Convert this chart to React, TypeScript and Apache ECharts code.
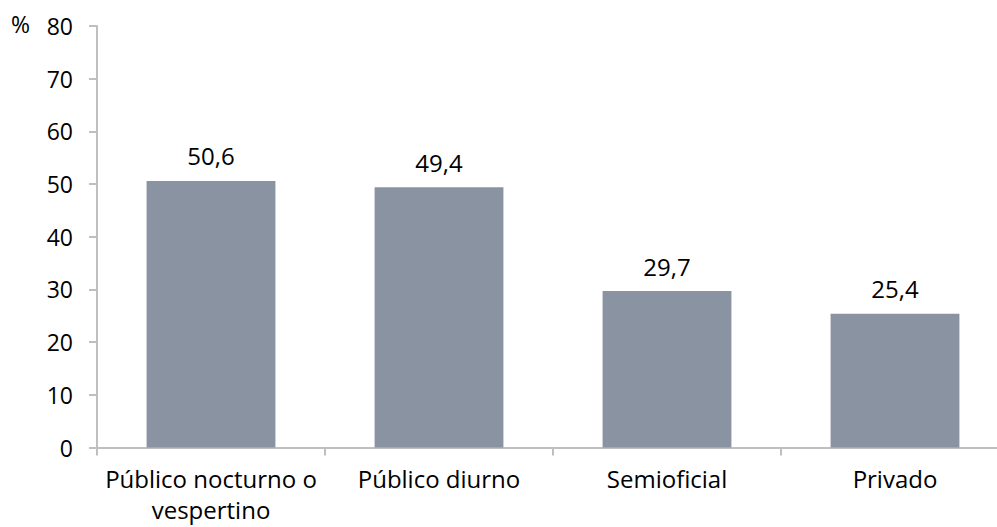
import React, { useEffect, useRef } from "react";
import * as echarts from "echarts";

const categories = ["Público nocturno o\nvespertino", "Público diurno", "Semioficial", "Privado"];
const values = [50.6, 49.4, 29.7, 25.4];
const yTicks = { min: 0, max: 80, interval: 10 };
const unitLabel = "%";

export default function App() {
  const ref = useRef<HTMLDivElement>(null);
  useEffect(() => {
    if (!ref.current) return;
    const chart = echarts.init(ref.current, undefined, { renderer: "svg" });
    const font = "'Open Sans', 'Noto Sans', sans-serif";
    chart.setOption({
      animation: false,
      backgroundColor: "#ffffff",
      grid: {
        left: 97,
        top: 26,
        bottom: 79.5,
        right: -12,
        containLabel: false,
        outerBoundsMode: "none",
      },
      graphic: [
        {
          type: "text",
          left: 11,
          top: 12,
          style: { text: unitLabel, font: `23px ${font}`, fill: "#000" },
        },
      ],
      xAxis: {
        type: "category",
        data: categories,
        axisLine: { show: true, lineStyle: { color: "#bfbfbf", width: 2 } },
        axisTick: { show: true, length: 8, lineStyle: { color: "#bfbfbf", width: 2 } },
        axisLabel: {
          color: "#000",
          fontSize: 24,
          fontFamily: font,
          margin: 15,
          lineHeight: 31,
          interval: 0,
        },
      },
      yAxis: {
        type: "value",
        min: yTicks.min,
        max: yTicks.max,
        interval: yTicks.interval,
        splitLine: { show: false },
        axisLine: { show: true, lineStyle: { color: "#bfbfbf", width: 2 } },
        axisTick: { show: true, length: 8, lineStyle: { color: "#bfbfbf", width: 2 } },
        axisLabel: { color: "#000", fontSize: 23, fontFamily: font, margin: 24 },
      },
      series: [
        {
          type: "bar",
          data: values,
          barWidth: "56.5%",
          itemStyle: { color: "#8a93a1" },
          label: {
            show: true,
            position: "top",
            distance: 13,
            color: "#000",
            fontSize: 24,
            fontFamily: font,
            formatter: (p: any) => String(p.value).replace(".", ","),
          },
        },
      ],
    });
    return () => chart.dispose();
  }, []);
  return (
    <div
      ref={ref}
      style={{ position: "fixed", left: 0, top: 0, width: 997, height: 527 }}
    />
  );
}
